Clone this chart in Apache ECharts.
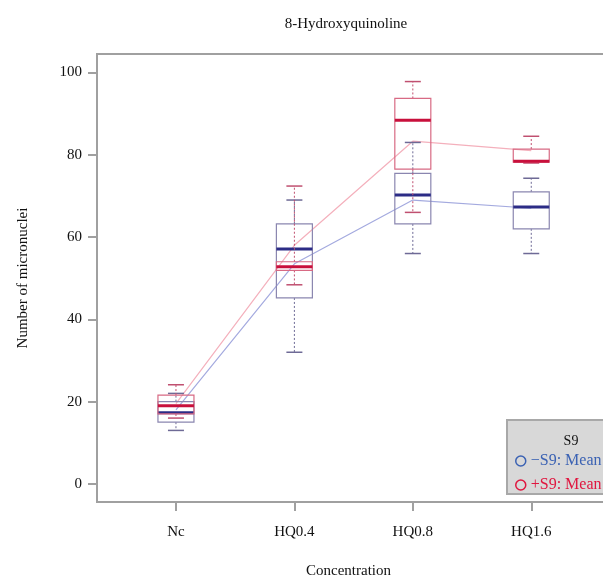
<!DOCTYPE html>
<html>
<head>
<meta charset="utf-8">
<script src="https://cdn.jsdelivr.net/npm/echarts@6/dist/echarts.min.js"></script>
<style>
  html, body { margin: 0; padding: 0; background: #fff; }
  #chart { width: 603px; height: 577px; }
</style>
</head>
<body>
<div id="chart"></div>
<script>
var categories = ['Nc', 'HQ0.4', 'HQ0.8', 'HQ1.6'];
var xPos = [1, 2, 3, 4];
var yTicks = [0, 20, 40, 60, 80, 100];

// -S9 box statistics
var minusMin = [13, 32, 56, 56];
var minusQ1 = [15, 45.2, 63.2, 62];
var minusMed = [17.3, 57.1, 70.2, 67.3];
var minusQ3 = [20, 63.2, 75.5, 71];
var minusMax = [22, 69, 83, 74.3];
var minusMean = [18, 53.5, 69, 67];

// +S9 box statistics
var plusMin = [16, 48.4, 66, 78];
var plusQ1 = [17, 51.9, 76.5, 78.2];
var plusMed = [19, 52.8, 88.4, 78.4];
var plusQ3 = [21.6, 54, 93.7, 81.4];
var plusMax = [24.1, 72.4, 97.8, 84.5];
var plusMean = [19.5, 58, 83.3, 81];

var serif = '"Liberation Serif", "DejaVu Serif", serif';
var axisGray = '#a0a0a0';

function boxData(mn, q1, md, q3, mx) {
  return xPos.map(function (x, i) { return [x, mn[i], q1[i], md[i], q3[i], mx[i]]; });
}
function meanData(m) {
  return xPos.map(function (x, i) { return [x, m[i]]; });
}

function makeBoxRender(boxColor, medColor, whiskColor) {
  return function (params, api) {
    var x = api.value(0);
    var pMin = api.coord([x, api.value(1)]);
    var pQ1 = api.coord([x, api.value(2)]);
    var pMed = api.coord([x, api.value(3)]);
    var pQ3 = api.coord([x, api.value(4)]);
    var pMax = api.coord([x, api.value(5)]);
    var cx = pMed[0];
    var hw = 18, cap = 8;
    var dotted = { stroke: whiskColor, lineWidth: 1, lineDash: [2, 2] };
    return {
      type: 'group',
      children: [
        { type: 'line', shape: { x1: cx, y1: pQ3[1], x2: cx, y2: pMax[1] }, style: dotted },
        { type: 'line', shape: { x1: cx, y1: pQ1[1], x2: cx, y2: pMin[1] }, style: dotted },
        { type: 'line', shape: { x1: cx - cap, y1: pMax[1], x2: cx + cap, y2: pMax[1] }, style: { stroke: whiskColor, lineWidth: 1.5 } },
        { type: 'line', shape: { x1: cx - cap, y1: pMin[1], x2: cx + cap, y2: pMin[1] }, style: { stroke: whiskColor, lineWidth: 1.5 } },
        { type: 'rect', shape: { x: cx - hw, y: pQ3[1], width: hw * 2, height: pQ1[1] - pQ3[1] }, style: { fill: 'none', stroke: boxColor, lineWidth: 1.2 } },
        { type: 'line', shape: { x1: cx - hw, y1: pMed[1], x2: cx + hw, y2: pMed[1] }, style: { stroke: medColor, lineWidth: 3 } }
      ]
    };
  };
}

var myChart = echarts.init(document.getElementById('chart'));

var option = {
  backgroundColor: '#fff',
  animation: false,
  title: [{
    text: '8-Hydroxyquinoline',
    left: 341,
    top: 12,
    textAlign: 'center',
    textStyle: { fontFamily: serif, fontSize: 15, fontWeight: 'normal', color: '#111' }
  }, {
    text: 'S9',
    left: 566,
    top: 429,
    textAlign: 'center',
    z: 10,
    textStyle: { fontFamily: serif, fontSize: 14, fontWeight: 'normal', color: '#111' }
  }],
  legend: {
    orient: 'vertical',
    left: 507,
    top: 420,
    padding: [33, 40, 1, 8],
    itemGap: 8,
    itemWidth: 10,
    itemHeight: 10,
    backgroundColor: '#d8d8d8',
    borderColor: '#a8a8a8',
    borderWidth: 2,
    textStyle: { fontFamily: serif, fontSize: 16 },
    data: [
      { name: '\u2212S9: Mean', icon: 'circle', itemStyle: { color: 'rgba(0,0,0,0)', borderColor: '#3b62b3', borderWidth: 1.5 }, textStyle: { color: '#3b62b3' } },
      { name: '+S9: Mean', icon: 'circle', itemStyle: { color: 'rgba(0,0,0,0)', borderColor: '#e0163f', borderWidth: 1.5 }, textStyle: { color: '#e0163f' } }
    ]
  },
  grid: {
    left: 97,
    top: 54,
    width: 529,
    bottom: 75,
    outerBoundsMode: 'none',
    containLabel: false,
    show: true,
    borderColor: axisGray,
    borderWidth: 2
  },
  xAxis: {
    type: 'value',
    min: 1 / 3,
    max: 4.8,
    name: 'Concentration',
    nameLocation: 'middle',
    nameGap: 62,
    nameTextStyle: { fontFamily: serif, fontSize: 15, color: '#111', padding: [0, 26, 0, 0] },
    splitLine: { show: false },
    axisLine: { show: true, onZero: false, lineStyle: { color: axisGray, width: 2 } },
    axisTick: { show: true, length: 9, customValues: xPos, lineStyle: { color: axisGray, width: 2 } },
    axisLabel: {
      customValues: xPos,
      margin: 23,
      fontFamily: serif,
      fontSize: 15,
      color: '#111',
      formatter: function (v) { return categories[Math.round(v) - 1] || ''; }
    }
  },
  yAxis: {
    type: 'value',
    min: -4.4,
    max: 104.5,
    name: 'Number of micronuclei',
    nameLocation: 'middle',
    nameGap: 66,
    nameTextStyle: { fontFamily: serif, fontSize: 15, color: '#111' },
    splitLine: { show: false },
    axisLine: { show: true, onZero: false, lineStyle: { color: axisGray, width: 2 } },
    axisTick: { show: true, length: 9, customValues: yTicks, lineStyle: { color: axisGray, width: 2 } },
    axisLabel: { customValues: yTicks, margin: 15, fontFamily: serif, fontSize: 15, color: '#111' }
  },
  series: [{
    name: '\u2212S9: Mean',
    type: 'line',
    data: meanData(minusMean),
    symbol: 'none',
    lineStyle: { color: '#a4aadf', width: 1.2 },
    itemStyle: { color: '#3b62b3' },
    z: 1
  }, {
    name: '+S9: Mean',
    type: 'line',
    data: meanData(plusMean),
    symbol: 'none',
    lineStyle: { color: '#f4b0bc', width: 1.2 },
    itemStyle: { color: '#e0163f' },
    z: 1
  }, {
    name: 'minusBox',
    type: 'custom',
    renderItem: makeBoxRender('#8a86b0', '#2c2c86', '#6e6a96'),
    data: boxData(minusMin, minusQ1, minusMed, minusQ3, minusMax),
    encode: { x: 0, y: [1, 2, 3, 4, 5] },
    z: 3
  }, {
    name: 'plusBox',
    type: 'custom',
    renderItem: makeBoxRender('#d86a84', '#c8103c', '#c05070'),
    data: boxData(plusMin, plusQ1, plusMed, plusQ3, plusMax),
    encode: { x: 0, y: [1, 2, 3, 4, 5] },
    z: 3
  }]
};

myChart.setOption(option);
</script>
</body>
</html>
